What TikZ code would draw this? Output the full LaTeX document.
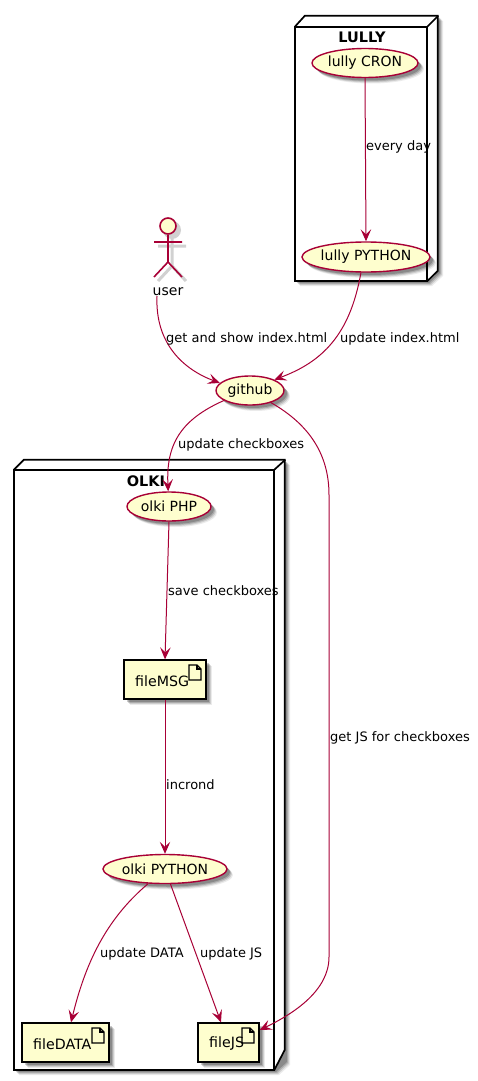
\documentclass[tikz,border=0pt]{standalone}
\usepackage{fontspec}
\setmainfont{DejaVu Sans}
\usetikzlibrary{shapes.geometric,shadows,arrows.meta,calc}
\definecolor{umlred}{HTML}{A80036}
\definecolor{umlfill}{HTML}{FEFECE}
\tikzset{
  softshadow/.style={
    general shadow={shadow xshift=6pt,shadow yshift=-6pt,fill=black,opacity=.08},
    general shadow={shadow xshift=5pt,shadow yshift=-5pt,fill=black,opacity=.12},
    general shadow={shadow xshift=4pt,shadow yshift=-4pt,fill=black,opacity=.16},
    general shadow={shadow xshift=3pt,shadow yshift=-3pt,fill=black,opacity=.20}},
  usecase/.style={ellipse,draw=umlred,fill=umlfill,line width=1.4pt,inner sep=0pt,softshadow,font=\fontsize{14}{16}\selectfont},
  artifact/.style={rectangle,draw=black,fill=umlfill,line width=1.3pt,inner sep=0pt,minimum height=39pt,softshadow},
  cluster/.style={rectangle,inner sep=0pt,fill=white},
  depth/.style={draw=black,line width=1.7pt,line join=miter},
  title/.style={font=\fontsize{14.5}{16}\selectfont\bfseries,inner sep=0pt},
  boxtext/.style={font=\fontsize{14.2}{16}\selectfont,inner sep=0pt,anchor=west},
  lbl/.style={font=\fontsize{13}{15}\selectfont,inner sep=0pt,anchor=west},
  conn/.style={draw=umlred,line width=1pt,-{Stealth[length=12pt,width=10.5pt,inset=5pt]}},
  stick/.style={draw=umlred,line width=1.6pt},
  stickshadow/.style={draw=black!18,line width=3pt},
  noteicon/.style={draw=black,line width=1.2pt,line join=miter}
}
\begin{document}
\begin{tikzpicture}[x=1pt,y=-1pt]
\useasboundingbox (0,0) rectangle (478,1081);
% LULLY package
\foreach \s/\o in {5/.08,4/.12,3/.16,2/.20}
  \fill[black,opacity=\o] (295+\s,27+\s) -- (305+\s,16+\s) -- (438+\s,16+\s) -- (438+\s,271+\s) -- (427+\s,281+\s) -- (295+\s,281+\s) -- cycle;
\node[cluster,minimum width=132pt,minimum height=254pt] (lully) at (361,154) {};
\fill[white] (lully.north west) -- ++(10,-11) -- ++(133,0) -- ++(0,255) -- (lully.south east) -- (lully.north east) -- cycle;
\draw[depth] (lully.north west) -- ++(10,-11) -- ++(133,0) -- ++(0,255) -- (lully.south east);
\draw[depth] (lully.north east) -- ++(11,-11);
\draw[depth] (lully.south west) rectangle (lully.north east);
\node[title] (lullyt) at (362,37) {LULLY};
% OLKI package
\foreach \s/\o in {5/.08,4/.12,3/.16,2/.20}
  \fill[black,opacity=\o] (14+\s,470+\s) -- (24+\s,460+\s) -- (285+\s,460+\s) -- (285+\s,1060+\s) -- (274+\s,1070+\s) -- (14+\s,1070+\s) -- cycle;
\node[cluster,minimum width=260pt,minimum height=600pt] (olki) at (144,770) {};
\fill[white] (olki.north west) -- ++(10,-10) -- ++(261,0) -- ++(0,590) -- (olki.south east) -- (olki.north east) -- cycle;
\draw[depth] (olki.north west) -- ++(10,-10) -- ++(261,0) -- ++(0,590) -- (olki.south east);
\draw[depth] (olki.north east) -- ++(11,-10);
\draw[depth] (olki.south west) rectangle (olki.north east);
\node[title] (olkit) at (146,481) {OLKI};
% actor
\begin{scope}[shift={(4,4)}]
  \draw[stickshadow] (168,234) -- (168,262) (154,242) -- (182,242) (168,262) -- (154,277) (168,262) -- (182,277);
  \fill[black!18] (168,226) circle (9);
\end{scope}
\node[circle,draw=umlred,fill=umlfill,line width=1.6pt,minimum size=16pt,inner sep=0pt] (head) at (168,226) {};
\coordinate (hip) at (168,262);
\draw[stick] (head.south) -- (hip) (154,242) -- (182,242) (hip) -- (154,277) (hip) -- (182,277);
\node[font=\fontsize{14}{16}\selectfont,inner sep=0pt] (user) at (168,292) {user};
% use cases
\node[usecase,minimum width=106pt,minimum height=29pt] (cron) at (365,63) {lully CRON};
\node[usecase,minimum width=126pt,minimum height=30pt] (lpy) at (366,257) {lully PYTHON};
\node[usecase,minimum width=68pt,minimum height=29pt] (github) at (250,390.5) {github};
\node[usecase,minimum width=84pt,minimum height=29pt] (php) at (169,506.5) {olki PHP};
\node[usecase,minimum width=124pt,minimum height=29pt] (opy) at (165,869) {olki PYTHON};
% artifacts
\node[artifact,minimum width=82pt] (msg) at (165,679.5) {};
\node[artifact,minimum width=87pt] (data) at (65.5,1042.5) {};
\node[artifact,minimum width=61pt] (js) at (228.5,1042.5) {};
\node[boxtext] (msgt) at (135,681) {fileMSG};
\node[boxtext] (datat) at (33,1044) {fileDATA};
\node[boxtext] (jst) at (209,1044) {fileJS};
\foreach \x/\y in {189/665,92/1028,242/1028}{
  \draw[noteicon] (\x,\y) -- (\x+8,\y) -- (\x+12,\y+4) -- (\x+12,\y+15) -- (\x,\y+15) -- cycle;
  \draw[noteicon] (\x+8,\y) -- (\x+8,\y+4) -- (\x+12,\y+4);
}
% connectors
\draw[conn] (cron.south) -- (lpy.north);
\draw[conn] ([xshift=-11pt]user.south) .. controls (155,345) and (185,370) .. (github.166);
\draw[conn] (lpy.-108) .. controls (350,335) and (322,362) .. (github.24);
\draw[conn] (github.201) .. controls (180,420) and (166,445) .. (php.93);
\draw[conn] (github.-30) .. controls (310,425) and (329,455) .. (329,495) -- (329,957) .. controls (329,990) and (295,1013) .. ([yshift=12.5pt]js.east);
\draw[conn] (php.south) -- (msg.north);
\draw[conn] (msg.south) -- (opy.north);
\draw[conn] (opy.-139) .. controls (105,920) and (85,965) .. ([xshift=5.5pt]data.north);
\draw[conn] (opy.-70) -- ([xshift=-7.5pt]js.north);
% labels
\node[lbl] (l1) at (366,147) {every day};
\node[lbl] (l2) at (166,339) {get and show index.html};
\node[lbl] (l3) at (340,339) {update index.html};
\node[lbl] (l4) at (178,445) {update checkboxes};
\node[lbl] (l5) at (168,591) {save checkboxes};
\node[lbl] (l6) at (166,785) {incrond};
\node[lbl] (l7) at (330,738) {get JS for checkboxes};
\node[lbl] (l8) at (100,954) {update DATA};
\node[lbl] (l9) at (200,954) {update JS};
\end{tikzpicture}
\end{document}
